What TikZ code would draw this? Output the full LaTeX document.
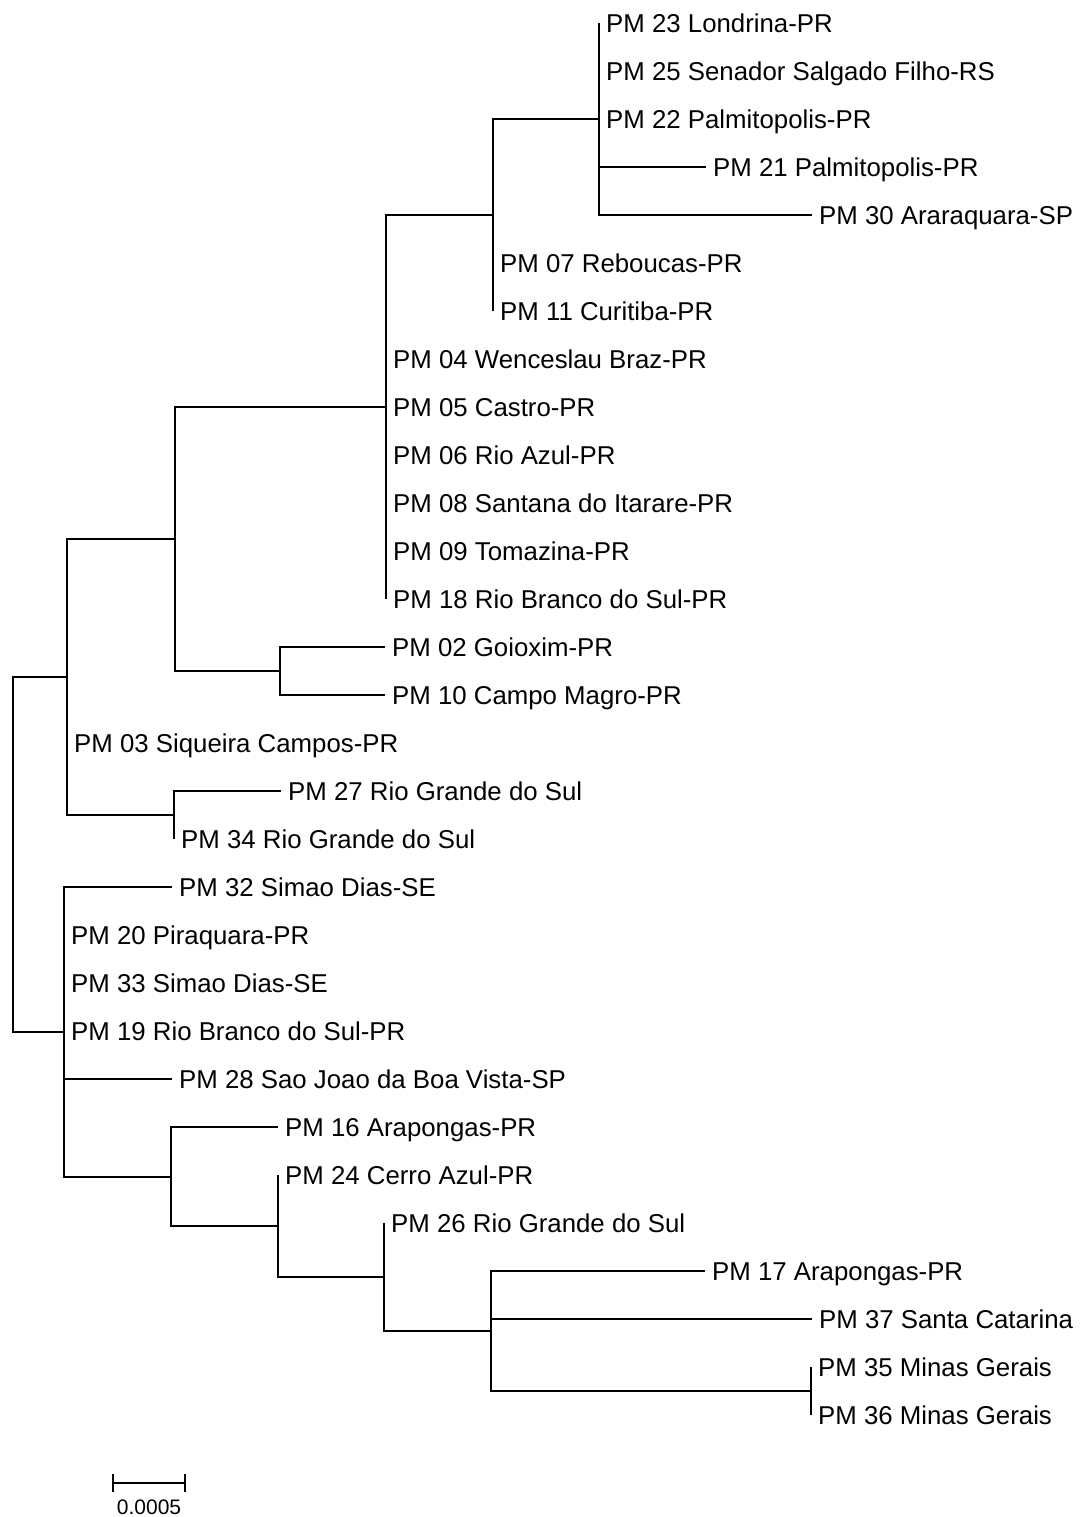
\documentclass[tikz,border=0pt]{standalone}
\usepackage{fontspec}
\setmainfont{Liberation Sans}
\usepackage{tikz}
\usetikzlibrary{calc}

\begin{document}
\begin{tikzpicture}[
  x=1pt, y=-1pt,
  br/.style={draw=black, line width=1.8pt},
  leaf/.style={anchor=base west, inner sep=0pt, xshift=7pt, yshift=-9.3pt, font=\fontsize{25.8}{30}\selectfont},
  scalelbl/.style={anchor=base, inner sep=0pt, font=\fontsize{21}{25}\selectfont}
]
  \useasboundingbox (0,0) rectangle (1083,1517);
  % internal nodes
  \coordinate (R) at (13,854);
  \coordinate (G) at (67,677);
  \coordinate (E) at (175,539);
  \coordinate (C) at (386,407);
  \coordinate (B) at (493,215);
  \coordinate (A) at (599,119);
  \coordinate (D) at (280,671);
  \coordinate (F) at (174,815);
  \coordinate (H) at (64,1032);
  \coordinate (I) at (171,1177);
  \coordinate (J) at (278,1226);
  \coordinate (K) at (384,1277);
  \coordinate (L) at (491,1331);
  \coordinate (M) at (811,1391);
  % leaf tips
  \coordinate (t23) at (599,23);
  \coordinate (t25) at (599,71);
  \coordinate (t22) at (599,119);
  \coordinate (t21) at (706,167);
  \coordinate (t30) at (812,215);
  \coordinate (t07) at (493,263);
  \coordinate (t11) at (493,311);
  \coordinate (t04) at (386,359);
  \coordinate (t05) at (386,407);
  \coordinate (t06) at (386,455);
  \coordinate (t08) at (386,503);
  \coordinate (t09) at (386,551);
  \coordinate (t18) at (386,599);
  \coordinate (t02) at (385,647);
  \coordinate (t10) at (385,695);
  \coordinate (t03) at (67,743);
  \coordinate (t27) at (281,791);
  \coordinate (t34) at (174,839);
  \coordinate (t32) at (172,887);
  \coordinate (t20) at (64,935);
  \coordinate (t33) at (64,983);
  \coordinate (t19) at (64,1031);
  \coordinate (t28) at (172,1079);
  \coordinate (t16) at (278,1127);
  \coordinate (t24) at (278,1175);
  \coordinate (t26) at (384,1223);
  \coordinate (t17) at (705,1271);
  \coordinate (t37) at (812,1319);
  \coordinate (t35) at (811,1367);
  \coordinate (t36) at (811,1415);
  % labels
  \node[leaf] (n23) at (t23) {PM 23 Londrina-PR};
  \node[leaf] (n25) at (t25) {PM 25 Senador Salgado Filho-RS};
  \node[leaf] (n22) at (t22) {PM 22 Palmitopolis-PR};
  \node[leaf] (n21) at (t21) {PM 21 Palmitopolis-PR};
  \node[leaf] (n30) at (t30) {PM 30 Araraquara-SP};
  \node[leaf] (n07) at (t07) {PM 07 Reboucas-PR};
  \node[leaf] (n11) at (t11) {PM 11 Curitiba-PR};
  \node[leaf] (n04) at (t04) {PM 04 Wenceslau Braz-PR};
  \node[leaf] (n05) at (t05) {PM 05 Castro-PR};
  \node[leaf] (n06) at (t06) {PM 06 Rio Azul-PR};
  \node[leaf] (n08) at (t08) {PM 08 Santana do Itarare-PR};
  \node[leaf] (n09) at (t09) {PM 09 Tomazina-PR};
  \node[leaf] (n18) at (t18) {PM 18 Rio Branco do Sul-PR};
  \node[leaf] (n02) at (t02) {PM 02 Goioxim-PR};
  \node[leaf] (n10) at (t10) {PM 10 Campo Magro-PR};
  \node[leaf] (n03) at (t03) {PM 03 Siqueira Campos-PR};
  \node[leaf] (n27) at (t27) {PM 27 Rio Grande do Sul};
  \node[leaf] (n34) at (t34) {PM 34 Rio Grande do Sul};
  \node[leaf] (n32) at (t32) {PM 32 Simao Dias-SE};
  \node[leaf] (n20) at (t20) {PM 20 Piraquara-PR};
  \node[leaf] (n33) at (t33) {PM 33 Simao Dias-SE};
  \node[leaf] (n19) at (t19) {PM 19 Rio Branco do Sul-PR};
  \node[leaf] (n28) at (t28) {PM 28 Sao Joao da Boa Vista-SP};
  \node[leaf] (n16) at (t16) {PM 16 Arapongas-PR};
  \node[leaf] (n24) at (t24) {PM 24 Cerro Azul-PR};
  \node[leaf] (n26) at (t26) {PM 26 Rio Grande do Sul};
  \node[leaf] (n17) at (t17) {PM 17 Arapongas-PR};
  \node[leaf] (n37) at (t37) {PM 37 Santa Catarina};
  \node[leaf] (n35) at (t35) {PM 35 Minas Gerais};
  \node[leaf] (n36) at (t36) {PM 36 Minas Gerais};
  % branches
  \foreach \p/\c in {R/G, R/H, G/E, G/t03, G/F, E/C, E/D, C/B, C/t04, C/t05, C/t06,
    C/t08, C/t09, C/t18, B/A, B/t07, B/t11, A/t23, A/t25, A/t22, A/t21, A/t30,
    D/t02, D/t10, F/t27, F/t34, H/t32, H/t20, H/t33, H/t19, H/t28, H/I,
    I/t16, I/J, J/t24, J/K, K/t26, K/L, L/t17, L/t37, L/M, M/t35, M/t36}
    \draw[br] (\p) |- (\c);
  % scale bar
  \coordinate (s1) at (113,1483);
  \coordinate (s2) at (185,1483);
  \draw[br] (s1) -- (s2);
  \draw[br] ($(s1)+(0,-9)$) -- ($(s1)+(0,9)$);
  \draw[br] ($(s2)+(0,-9)$) -- ($(s2)+(0,9)$);
  \node[scalelbl] (sl) at (149,1514) {0.0005};
\end{tikzpicture}
\end{document}
